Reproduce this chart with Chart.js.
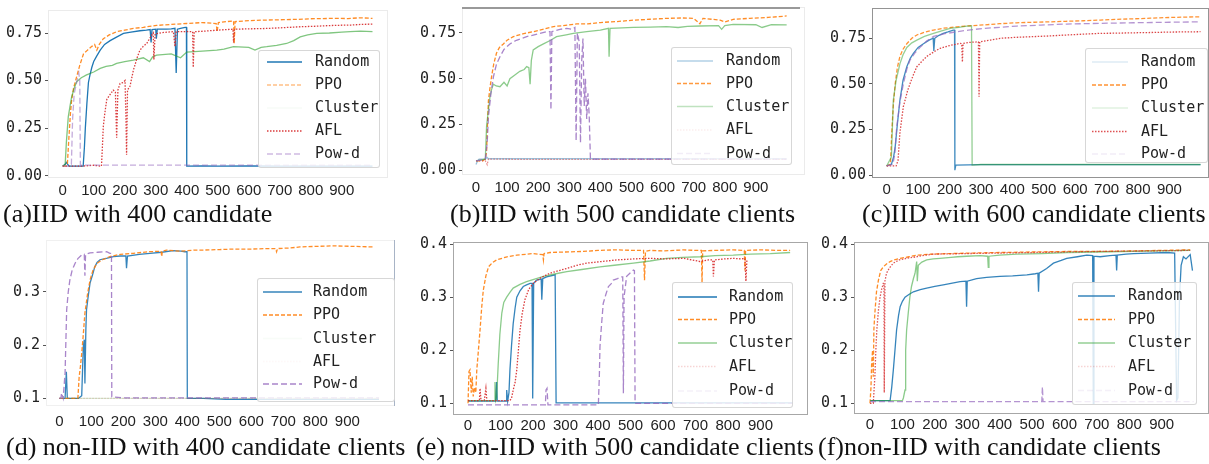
<!DOCTYPE html>
<html>
<head>
<meta charset="utf-8">
<script src="https://cdn.jsdelivr.net/npm/chart.js@4.4.1/dist/chart.umd.min.js"></script>
<style>
    html, body { margin: 0; padding: 0; background: #fff; }
    body { position: relative; width: 1209px; height: 464px; overflow: hidden; }
    canvas { position: absolute; }
    .cap { position: absolute; font-family: "Liberation Serif", "Times New Roman", serif; font-size: 26px; color: #111; white-space: nowrap; line-height: 1; }
    .leg { position: absolute; background: rgba(255,255,255,0.82); border: 1px solid rgba(205,205,205,0.8); border-radius: 3px; box-sizing: border-box; }
    .leg-txt { position: absolute; font-family: "DejaVu Sans Mono", monospace; font-size: 15px; color: #222; line-height: 1; white-space: nowrap; }
</style>
</head>
<body>
<script>
    "use strict";

    // Tick labels
    const X_TICKS = [0, 100, 200, 300, 400, 500, 600, 700, 800, 900];
    const Y_TICKS_IID = [0, 0.25, 0.5, 0.75];
    const Y_TICKS_D = [0.1, 0.2, 0.3];
    const Y_TICKS_EF = [0.1, 0.2, 0.3, 0.4];
    const SERIES_NAMES = ['Random', 'PPO', 'Cluster', 'AFL', 'Pow-d'];

    // (a) IID, 400 candidates  -- [round, accuracy]
    const A_RANDOM = [[0,0.05],[8,0.06],[12,0.07],[20,0.05],[40,0.05],[60,0.05],[66,0.05],[70,0.15],[73,0.25],[78,0.38],[83,0.49],[88,0.53],[94,0.57],[100,0.6],[110,0.63],[121,0.66],[135,0.69],[153,0.71],[175,0.73],[196,0.748],[220,0.755],[249,0.762],[270,0.765],[282,0.768],[285,0.70],[288,0.768],[300,0.77],[302,0.72],[305,0.77],[335,0.77],[350,0.772],[362,0.775],[366,0.54],[370,0.77],[380,0.775],[395,0.78],[399,0.78],[400,0.05],[450,0.052],[500,0.05],[600,0.052],[700,0.05],[800,0.05],[900,0.05],[999,0.05]];
    const A_PPO = [[0,0.05],[10,0.05],[15,0.06],[20,0.2],[25,0.33],[29,0.40],[35,0.46],[45,0.52],[55,0.58],[67,0.64],[80,0.66],[94,0.68],[103,0.69],[110,0.66],[118,0.69],[131,0.72],[150,0.74],[174,0.757],[200,0.765],[228,0.774],[260,0.78],[303,0.79],[350,0.795],[400,0.80],[450,0.805],[495,0.80],[498,0.757],[502,0.805],[551,0.814],[553,0.695],[556,0.81],[600,0.815],[650,0.818],[712,0.82],[760,0.822],[800,0.825],[873,0.827],[920,0.826],[960,0.83],[999,0.827]];
    const A_CLUSTER = [[0,0.05],[8,0.06],[12,0.18],[18,0.31],[24,0.37],[29,0.415],[37,0.46],[45,0.494],[60,0.515],[77,0.53],[100,0.545],[121,0.564],[140,0.575],[160,0.58],[174,0.59],[200,0.6],[228,0.608],[260,0.62],[280,0.6],[290,0.625],[303,0.634],[350,0.64],[380,0.62],[400,0.65],[450,0.655],[497,0.66],[520,0.665],[551,0.678],[600,0.675],[620,0.66],[640,0.675],[658,0.678],[690,0.685],[722,0.695],[745,0.71],[766,0.73],[790,0.74],[819,0.748],[860,0.75],[900,0.755],[927,0.757],[960,0.76],[999,0.757]];
    const A_AFL = [[0,0.05],[60,0.05],[100,0.055],[125,0.05],[128,0.15],[131,0.26],[136,0.33],[142,0.40],[150,0.42],[163,0.45],[170,0.44],[174,0.2],[178,0.45],[185,0.485],[195,0.49],[201,0.50],[204,0.3],[206,0.11],[209,0.45],[217,0.47],[228,0.555],[240,0.62],[249,0.66],[260,0.68],[271,0.695],[280,0.72],[292,0.75],[294,0.61],[298,0.745],[320,0.752],[340,0.755],[357,0.757],[362,0.68],[366,0.757],[400,0.758],[419,0.757],[421,0.57],[424,0.757],[460,0.76],[497,0.765],[549,0.77],[551,0.70],[554,0.77],[600,0.772],[658,0.774],[710,0.778],[766,0.783],[820,0.786],[873,0.79],[930,0.792],[960,0.795],[999,0.797]];
    const A_POWD = [[0,0.05],[20,0.05],[28,0.06],[32,0.3],[37,0.43],[45,0.49],[52,0.54],[55,0.5],[57,0.056],[100,0.056],[200,0.056],[300,0.056],[400,0.056],[500,0.056],[600,0.056],[700,0.056],[800,0.056],[900,0.056],[999,0.056]];

    // (b) IID, 500 candidates
    const B_RANDOM = [[0,0.03],[5,0.05],[10,0.06],[30,0.06],[35,0.07],[40,0.062],[100,0.062],[200,0.062],[300,0.062],[400,0.062],[500,0.062],[600,0.062],[700,0.062],[800,0.062],[900,0.062],[999,0.062]];
    const B_PPO = [[0,0.05],[20,0.05],[30,0.06],[34,0.1],[37,0.25],[40,0.38],[45,0.45],[50,0.51],[57,0.58],[66,0.64],[75,0.67],[88,0.69],[100,0.71],[120,0.73],[150,0.745],[184,0.757],[215,0.77],[249,0.785],[280,0.79],[324,0.80],[360,0.80],[399,0.807],[450,0.812],[506,0.82],[560,0.825],[613,0.83],[660,0.832],[700,0.83],[720,0.80],[730,0.83],[785,0.82],[800,0.81],[830,0.825],[881,0.83],[940,0.835],[999,0.843]];
    const B_CLUSTER = [[0,0.05],[30,0.06],[34,0.24],[40,0.33],[45,0.40],[50,0.44],[56,0.47],[65,0.46],[77,0.456],[90,0.48],[100,0.46],[109,0.50],[125,0.52],[141,0.54],[155,0.55],[163,0.566],[170,0.56],[174,0.47],[178,0.6],[184,0.657],[200,0.675],[217,0.69],[240,0.71],[259,0.73],[290,0.74],[313,0.748],[356,0.757],[400,0.765],[426,0.775],[428,0.62],[431,0.775],[470,0.778],[506,0.78],[560,0.782],[613,0.785],[650,0.78],[680,0.786],[720,0.788],[780,0.79],[790,0.77],[800,0.79],[827,0.797],[900,0.795],[920,0.78],[950,0.795],[999,0.794]];
    const B_AFL = [[0,0.05],[30,0.05],[36,0.03],[40,0.06],[200,0.058],[400,0.058],[600,0.058],[800,0.058],[999,0.058]];
    const B_POWD = [[0,0.05],[30,0.06],[36,0.15],[40,0.29],[48,0.42],[56,0.51],[66,0.58],[77,0.62],[90,0.66],[109,0.69],[130,0.71],[163,0.73],[200,0.745],[227,0.757],[238,0.757],[241,0.33],[244,0.757],[270,0.77],[292,0.775],[310,0.77],[318,0.78],[322,0.16],[326,0.75],[332,0.70],[336,0.15],[340,0.60],[344,0.72],[348,0.35],[352,0.5],[356,0.28],[360,0.42],[364,0.30],[368,0.06],[400,0.06],[500,0.06],[600,0.06],[700,0.06],[800,0.06],[900,0.06],[999,0.06]];

    // (c) IID, 600 candidates
    const C_RANDOM = [[0,0.05],[15,0.06],[22,0.1],[27,0.155],[34,0.28],[42,0.41],[52,0.52],[64,0.594],[75,0.64],[85,0.667],[100,0.70],[117,0.72],[135,0.74],[148,0.75],[150,0.68],[153,0.75],[165,0.765],[180,0.777],[195,0.785],[212,0.795],[216,0.795],[217,0.027],[220,0.055],[300,0.057],[400,0.057],[500,0.057],[600,0.057],[700,0.057],[800,0.057],[900,0.057],[999,0.057]];
    const C_PPO = [[0,0.05],[12,0.06],[16,0.23],[21,0.38],[27,0.50],[34,0.59],[42,0.65],[52,0.69],[64,0.72],[80,0.75],[96,0.768],[120,0.783],[149,0.795],[180,0.805],[223,0.813],[260,0.818],[308,0.823],[360,0.83],[414,0.835],[470,0.838],[520,0.84],[570,0.843],[626,0.846],[680,0.85],[733,0.854],[790,0.857],[839,0.86],[900,0.864],[950,0.866],[999,0.868]];
    const C_CLUSTER = [[0,0.05],[15,0.1],[21,0.41],[30,0.52],[42,0.61],[52,0.66],[64,0.70],[80,0.725],[96,0.74],[120,0.76],[149,0.777],[175,0.79],[202,0.804],[230,0.81],[255,0.817],[270,0.818],[272,0.055],[300,0.058],[400,0.058],[500,0.058],[632,0.058],[700,0.058],[800,0.058],[900,0.058],[999,0.058]];
    const C_AFL = [[0,0.05],[30,0.05],[36,0.08],[42,0.23],[48,0.31],[53,0.375],[60,0.42],[66,0.46],[74,0.50],[85,0.55],[96,0.594],[110,0.62],[127,0.65],[145,0.67],[170,0.695],[200,0.71],[234,0.722],[239,0.72],[241,0.62],[243,0.722],[260,0.727],[287,0.73],[292,0.73],[294,0.43],[296,0.73],[330,0.74],[361,0.75],[410,0.755],[467,0.759],[520,0.763],[573,0.768],[630,0.773],[679,0.777],[730,0.778],[786,0.78],[850,0.782],[900,0.784],[950,0.785],[999,0.786]];
    const C_POWD = [[0,0.05],[20,0.06],[26,0.12],[32,0.265],[42,0.40],[53,0.50],[64,0.58],[74,0.63],[90,0.67],[106,0.70],[127,0.735],[149,0.76],[185,0.775],[223,0.786],[260,0.795],[308,0.804],[360,0.81],[414,0.817],[490,0.822],[573,0.828],[680,0.832],[786,0.835],[900,0.838],[999,0.84]];

    // (d) non-IID, 400 candidates
    const D_RANDOM = [[0,0.1],[18,0.1],[22,0.15],[25,0.1],[60,0.1],[70,0.105],[75,0.197],[78,0.21],[80,0.128],[83,0.23],[85,0.266],[90,0.29],[96,0.316],[103,0.33],[111,0.347],[118,0.355],[127,0.36],[150,0.363],[169,0.366],[190,0.367],[208,0.367],[210,0.344],[213,0.367],[250,0.37],[283,0.372],[320,0.374],[356,0.377],[380,0.376],[392,0.375],[399,0.375],[400,0.1],[450,0.1],[520,0.098],[600,0.098],[700,0.098],[800,0.098],[900,0.098],[999,0.098]];
    const D_PPO = [[0,0.1],[30,0.1],[58,0.1],[62,0.14],[66,0.16],[70,0.184],[75,0.22],[80,0.26],[88,0.295],[96,0.322],[105,0.34],[117,0.353],[135,0.36],[158,0.366],[190,0.37],[231,0.372],[280,0.375],[318,0.376],[320,0.366],[322,0.376],[335,0.378],[380,0.376],[420,0.378],[440,0.378],[500,0.379],[544,0.38],[600,0.38],[648,0.381],[676,0.381],[679,0.375],[682,0.381],[720,0.382],[752,0.384],[800,0.385],[856,0.386],[920,0.385],[981,0.384]];
    const D_CLUSTER = [[0,0.1],[200,0.1],[400,0.1],[600,0.1],[800,0.1],[999,0.1]];
    const D_AFL = [[0,0.1],[200,0.1],[400,0.1],[600,0.1],[800,0.1],[999,0.1]];
    const D_POWD = [[0,0.1],[5,0.1],[7,0.11],[12,0.1],[18,0.147],[23,0.266],[28,0.30],[33,0.322],[40,0.34],[49,0.353],[58,0.362],[70,0.369],[78,0.37],[80,0.33],[82,0.37],[96,0.373],[120,0.374],[148,0.375],[158,0.372],[163,0.372],[164,0.103],[200,0.101],[300,0.101],[400,0.101],[500,0.101],[600,0.101],[700,0.101],[800,0.101],[900,0.101],[999,0.101]];

    // (e) non-IID, 500 candidates
    const E_RANDOM = [[0,0.104],[40,0.104],[85,0.104],[88,0.14],[90,0.104],[117,0.104],[119,0.125],[122,0.104],[126,0.12],[129,0.163],[134,0.21],[139,0.25],[145,0.28],[150,0.30],[160,0.312],[170,0.32],[180,0.323],[191,0.326],[197,0.326],[199,0.109],[202,0.326],[211,0.332],[225,0.334],[227,0.295],[230,0.335],[242,0.338],[255,0.34],[268,0.342],[270,0.342],[271,0.101],[300,0.101],[400,0.101],[500,0.101],[600,0.101],[700,0.101],[800,0.101],[900,0.101],[999,0.101]];
    const E_PPO = [[0,0.1],[3,0.16],[6,0.163],[10,0.12],[13,0.15],[16,0.113],[20,0.13],[24,0.12],[27,0.163],[32,0.2],[37,0.238],[42,0.28],[47,0.313],[55,0.34],[63,0.357],[75,0.365],[88,0.37],[120,0.376],[150,0.379],[200,0.382],[230,0.38],[232,0.37],[234,0.382],[252,0.384],[300,0.385],[355,0.386],[400,0.388],[457,0.389],[510,0.388],[540,0.388],[543,0.332],[546,0.386],[560,0.388],[600,0.387],[663,0.389],[700,0.388],[718,0.388],[720,0.326],[722,0.387],[760,0.388],[816,0.389],[850,0.388],[852,0.35],[854,0.388],[900,0.389],[950,0.388],[991,0.388]];
    const E_CLUSTER = [[0,0.105],[80,0.105],[83,0.14],[85,0.105],[88,0.11],[93,0.175],[98,0.23],[104,0.27],[110,0.29],[119,0.30],[130,0.31],[139,0.317],[160,0.324],[180,0.329],[205,0.334],[232,0.339],[270,0.344],[304,0.348],[350,0.352],[406,0.357],[450,0.36],[509,0.364],[560,0.368],[611,0.373],[660,0.375],[714,0.376],[760,0.378],[816,0.379],[870,0.381],[930,0.382],[991,0.384]];
    const E_AFL = [[0,0.105],[35,0.105],[37,0.128],[40,0.105],[50,0.105],[55,0.128],[58,0.105],[129,0.105],[134,0.11],[139,0.125],[145,0.14],[150,0.163],[155,0.2],[160,0.238],[167,0.27],[175,0.295],[187,0.315],[201,0.326],[225,0.337],[252,0.345],[280,0.35],[304,0.354],[335,0.36],[365,0.364],[410,0.367],[457,0.37],[510,0.372],[560,0.373],[610,0.372],[663,0.373],[690,0.37],[714,0.367],[740,0.37],[753,0.37],[755,0.339],[758,0.37],[790,0.372],[816,0.373],[840,0.372],[852,0.373],[855,0.33],[858,0.37]];
    const E_POWD = [[0,0.097],[100,0.097],[200,0.097],[238,0.097],[240,0.125],[243,0.128],[246,0.097],[300,0.097],[350,0.097],[401,0.097],[404,0.15],[406,0.207],[411,0.25],[416,0.288],[424,0.305],[432,0.32],[440,0.325],[447,0.332],[460,0.335],[470,0.338],[476,0.338],[478,0.119],[480,0.3],[488,0.339],[498,0.345],[509,0.351],[512,0.35],[514,0.1],[600,0.1],[700,0.1],[800,0.1],[900,0.1],[999,0.1]];

    // (f) non-IID
    const F_RANDOM = [[0,0.105],[30,0.105],[62,0.105],[67,0.13],[72,0.163],[77,0.2],[82,0.238],[88,0.265],[93,0.282],[100,0.292],[108,0.30],[120,0.305],[134,0.31],[155,0.314],[175,0.317],[200,0.32],[226,0.323],[250,0.326],[278,0.329],[296,0.33],[298,0.282],[300,0.33],[329,0.335],[360,0.337],[401,0.339],[440,0.34],[484,0.342],[510,0.344],[518,0.345],[520,0.31],[522,0.345],[545,0.354],[566,0.364],[590,0.369],[607,0.373],[640,0.376],[669,0.379],[687,0.378],[689,0.1],[691,0.377],[710,0.376],[740,0.378],[759,0.379],[761,0.35],[763,0.379],[790,0.381],[813,0.382],[860,0.383],[916,0.384],[940,0.383],[944,0.2],[946,0.105],[950,0.11],[955,0.3],[960,0.36],[967,0.376],[975,0.372],[988,0.38],[995,0.35]];
    const F_PPO = [[0,0.1],[3,0.13],[5,0.175],[8,0.2],[10,0.15],[12,0.24],[15,0.27],[20,0.31],[26,0.332],[33,0.35],[41,0.357],[50,0.362],[62,0.367],[75,0.37],[93,0.373],[120,0.376],[144,0.379],[190,0.381],[247,0.382],[320,0.383],[401,0.384],[500,0.385],[607,0.386],[700,0.386],[813,0.387],[900,0.388],[988,0.389]];
    const F_CLUSTER = [[0,0.105],[50,0.105],[100,0.105],[103,0.11],[108,0.125],[110,0.2],[113,0.238],[118,0.27],[123,0.30],[128,0.32],[134,0.335],[139,0.345],[144,0.367],[146,0.33],[149,0.36],[160,0.366],[175,0.37],[195,0.372],[216,0.373],[250,0.375],[270,0.376],[298,0.377],[340,0.378],[363,0.377],[365,0.356],[367,0.377],[400,0.379],[453,0.381],[530,0.382],[607,0.384],[700,0.385],[813,0.386],[900,0.387],[988,0.388]];
    const F_AFL = [[0,0.1],[10,0.1],[15,0.15],[18,0.2],[21,0.238],[26,0.275],[31,0.30],[36,0.315],[41,0.326],[43,0.326],[44,0.12],[46,0.33],[51,0.345],[60,0.355],[72,0.364],[90,0.37],[113,0.373],[144,0.376],[160,0.378],[195,0.381],[298,0.382],[400,0.383],[504,0.384],[600,0.385],[710,0.386],[850,0.387],[988,0.388]];
    const F_POWD = [[0,0.103],[100,0.103],[200,0.103],[300,0.103],[400,0.103],[500,0.103],[530,0.103],[532,0.131],[534,0.103],[600,0.103],[700,0.103],[800,0.103],[900,0.103],[999,0.103]];

    // Styles
    const COLORS = ['31,119,180', '255,127,14', '44,160,44', '214,39,40', '148,103,189'];
    const DASHES = [[], [4, 2], [], [1.5, 1.5], [6, 3]];

    // Layout: canvas [x,y,w,h], plot area [left,top,right,bottom] in page pixels
    const PANELS = [
        { canvas: [0, 0, 405, 200], plot: [48, 10, 388, 178], x: [-47.4, 1049], y: [-0.012, 0.871],
          yTicks: Y_TICKS_IID, dec: 2, xPad: 4,
          series: [A_RANDOM, A_PPO, A_CLUSTER, A_AFL, A_POWD], alpha: [1, 0.9, 0.6, 0.9, 0.55],
          frame: { color: 'rgba(0,0,0,0.08)', width: 1 },
          legend: { box: [258, 50, 380, 168], rows: [62, 85, 108, 131, 154], line: [267, 302], text: 315, fade: [1, 0.5, 0.04, 0.9, 0.45] },
          caption: { text: '(a)IID with 400 candidate', x: 3, y: 201 } },
        { canvas: [405, 0, 405, 200], plot: [462, 7, 805, 175], x: [-45, 1058], y: [-0.027, 0.892],
          yTicks: Y_TICKS_IID, dec: 2, xPad: 4,
          series: [B_RANDOM, B_PPO, B_CLUSTER, B_AFL, B_POWD], alpha: [0.45, 0.9, 0.55, 0.5, 0.8],
          frame: { color: 'rgba(0,0,0,0.08)', width: 1, topColor: '#999', topWidth: 2 },
          legend: { box: [671, 47, 792, 165], rows: [61, 83.5, 106.5, 130, 153.5], line: [677, 713], text: 726, fade: [0.35, 0.8, 0.3, 0.08, 0.12] },
          caption: { text: '(b)IID with 500 candidate clients', x: 450, y: 201 } },
        { canvas: [815, 0, 394, 200], plot: [872, 8, 1209, 178], x: [-46.8, 1026], y: [-0.016, 0.916],
          yTicks: Y_TICKS_IID, dec: 2, xPad: 3,
          series: [C_RANDOM, C_PPO, C_CLUSTER, C_AFL, C_POWD], alpha: [0.85, 0.85, 0.5, 0.85, 0.7],
          frame: { color: 'rgba(60,60,60,0.55)', width: 1 },
          legend: { box: [1085, 48, 1208, 163], rows: [62, 85, 108, 131.5, 154], line: [1092, 1128], text: 1141, fade: [0.15, 0.85, 0.15, 0.8, 0.12] },
          caption: { text: '(c)IID with 600 candidate clients', x: 862, y: 201 } },
        { canvas: [0, 228, 410, 210], plot: [46, 240, 395, 406], x: [-41.6, 1049], y: [0.0856, 0.397],
          yTicks: Y_TICKS_D, dec: 1, xPad: 7,
          series: [D_RANDOM, D_PPO, D_CLUSTER, D_AFL, D_POWD], alpha: [0.9, 0.9, 0.2, 0.2, 0.8],
          frame: { color: 'rgba(0,0,0,0.06)', width: 1, rightColor: 'rgba(120,140,170,0.6)' },
          legend: { box: [257, 278, 395, 402], rows: [292, 315, 338.5, 361.5, 384], line: [263, 302], text: 313, fade: [0.9, 0.9, 0.03, 0.03, 0.8] },
          caption: { text: '(d) non-IID with 400 candidate clients', x: 6, y: 434 } },
        { canvas: [410, 228, 405, 210], plot: [453, 242, 808, 415], x: [-46.2, 1046], y: [0.078, 0.4038],
          yTicks: Y_TICKS_EF, dec: 1, xPad: 2,
          series: [E_RANDOM, E_PPO, E_CLUSTER, E_AFL, E_POWD], alpha: [0.9, 0.9, 0.55, 0.9, 0.8],
          frame: { color: 'rgba(60,60,60,0.45)', width: 1 },
          legend: { box: [672, 282, 793, 408], rows: [297, 319.5, 343, 366.5, 391], line: [678, 717], text: 729, fade: [1, 0.9, 0.5, 0.2, 0.1] },
          caption: { text: '(e) non-IID with 500 candidate clients', x: 416, y: 434 } },
        { canvas: [815, 228, 394, 210], plot: [854, 242, 1209, 414], x: [-49.4, 1046], y: [0.0798, 0.4038],
          yTicks: Y_TICKS_EF, dec: 1, xPad: 2,
          series: [F_RANDOM, F_PPO, F_CLUSTER, F_AFL, F_POWD], alpha: [0.9, 0.9, 0.55, 0.8, 0.7],
          frame: { color: 'rgba(60,60,60,0.45)', width: 1 },
          legend: { box: [1072, 282, 1197, 405], rows: [296, 319.5, 343, 366.5, 390.5], line: [1078, 1115], text: 1128, fade: [0.9, 0.9, 0.5, 0.2, 0.1] },
          caption: { text: '(f)non-IID with candidate clients', x: 818, y: 434 } }
    ];

    // Frame around the plot area
    const framePlugin = {
        id: 'frame',
        afterDraw(chart, args, opts) {
            const a = chart.chartArea, ctx = chart.ctx;
            ctx.save();
            ctx.strokeStyle = opts.color;
            ctx.lineWidth = opts.width;
            ctx.strokeRect(a.left + 0.5, a.top + 0.5, a.right - a.left - 1, a.bottom - a.top - 1);
            if (opts.topColor) {
                ctx.strokeStyle = opts.topColor;
                ctx.lineWidth = opts.topWidth;
                ctx.beginPath();
                ctx.moveTo(a.left, a.top + 1);
                ctx.lineTo(a.right - 5, a.top + 1);
                ctx.stroke();
            }
            if (opts.rightColor) {
                ctx.strokeStyle = opts.rightColor;
                ctx.lineWidth = 1;
                ctx.beginPath();
                ctx.moveTo(a.right - 0.5, a.top);
                ctx.lineTo(a.right - 0.5, a.bottom);
                ctx.stroke();
            }
            ctx.restore();
        }
    };

    function buildChart(p) {
        const cv = document.createElement('canvas');
        cv.width = p.canvas[2];
        cv.height = p.canvas[3];
        cv.style.left = p.canvas[0] + 'px';
        cv.style.top = p.canvas[1] + 'px';
        cv.style.width = p.canvas[2] + 'px';
        cv.style.height = p.canvas[3] + 'px';
        document.body.appendChild(cv);

        const padTop = p.plot[1] - p.canvas[1];
        const padRight = Math.max(0, p.canvas[0] + p.canvas[2] - p.plot[2]);
        const yWidth = p.plot[0] - p.canvas[0];
        const xHeight = p.canvas[1] + p.canvas[3] - p.plot[3];

        const datasets = p.series.map(function (pts, i) {
            return {
                label: SERIES_NAMES[i],
                data: pts.map(d => ({ x: d[0], y: d[1] })),
                borderColor: 'rgba(' + COLORS[i] + ',' + p.alpha[i] + ')',
                borderWidth: 1.3,
                borderDash: DASHES[i],
                pointRadius: 0,
                fill: false,
                tension: 0,
                order: 5 - i
            };
        });

        new Chart(cv, {
            type: 'line',
            data: { datasets },
            options: {
                responsive: false,
                animation: false,
                events: [],
                layout: { padding: { top: padTop, right: padRight, left: 0, bottom: 0 } },
                plugins: {
                    legend: { display: false },
                    tooltip: { enabled: false },
                    frame: p.frame
                },
                scales: {
                    x: {
                        type: 'linear',
                        min: p.x[0],
                        max: p.x[1],
                        grid: { display: false, drawTicks: false },
                        border: { display: false },
                        ticks: {
                            font: { family: '"Liberation Sans Narrow", "Arial Narrow", "Liberation Sans", sans-serif', size: 15 },
                            color: '#222',
                            padding: p.xPad,
                            maxRotation: 0,
                            autoSkip: false,
                            callback: v => String(v)
                        },
                        afterBuildTicks: s => { s.ticks = X_TICKS.map(v => ({ value: v })); },
                        afterFit: s => { s.height = xHeight; s.paddingLeft = 0; s.paddingRight = 0; }
                    },
                    y: {
                        min: p.y[0],
                        max: p.y[1],
                        grid: { display: true, drawOnChartArea: false, drawTicks: true, tickLength: 3, color: '#555' },
                        border: { display: false },
                        ticks: {
                            font: { family: '"DejaVu Sans Mono", monospace', size: 15 },
                            color: '#222',
                            padding: 3,
                            callback: v => v.toFixed(p.dec)
                        },
                        afterBuildTicks: s => { s.ticks = p.yTicks.map(v => ({ value: v })); },
                        afterFit: s => { s.width = yWidth; s.paddingTop = 0; s.paddingBottom = 0; }
                    }
                }
            },
            plugins: [framePlugin]
        });
    }

    function buildLegend(p) {
        const lg = p.legend;
        const box = document.createElement('div');
        box.className = 'leg';
        box.style.left = lg.box[0] + 'px';
        box.style.top = lg.box[1] + 'px';
        box.style.width = (lg.box[2] - lg.box[0]) + 'px';
        box.style.height = (lg.box[3] - lg.box[1]) + 'px';
        document.body.appendChild(box);

        const ns = 'http://www.w3.org/2000/svg';
        const svg = document.createElementNS(ns, 'svg');
        svg.setAttribute('width', '1209');
        svg.setAttribute('height', '464');
        svg.style.position = 'absolute';
        svg.style.left = '0';
        svg.style.top = '0';
        document.body.appendChild(svg);

        SERIES_NAMES.forEach(function (name, i) {
            const ln = document.createElementNS(ns, 'line');
            ln.setAttribute('x1', lg.line[0]);
            ln.setAttribute('x2', lg.line[1]);
            ln.setAttribute('y1', lg.rows[i]);
            ln.setAttribute('y2', lg.rows[i]);
            ln.setAttribute('stroke', 'rgba(' + COLORS[i] + ',' + lg.fade[i] + ')');
            ln.setAttribute('stroke-width', '1.5');
            if (DASHES[i].length) ln.setAttribute('stroke-dasharray', DASHES[i].join(' '));
            svg.appendChild(ln);

            const t = document.createElement('div');
            t.className = 'leg-txt';
            t.textContent = name;
            t.style.left = lg.text + 'px';
            t.style.top = (lg.rows[i] - 8) + 'px';
            document.body.appendChild(t);
        });
    }

    function buildCaption(p) {
        const c = document.createElement('div');
        c.className = 'cap';
        c.textContent = p.caption.text;
        c.style.left = p.caption.x + 'px';
        c.style.top = p.caption.y + 'px';
        document.body.appendChild(c);
    }

    PANELS.forEach(buildChart);
    PANELS.forEach(buildLegend);
    PANELS.forEach(buildCaption);
</script>
</body>
</html>
